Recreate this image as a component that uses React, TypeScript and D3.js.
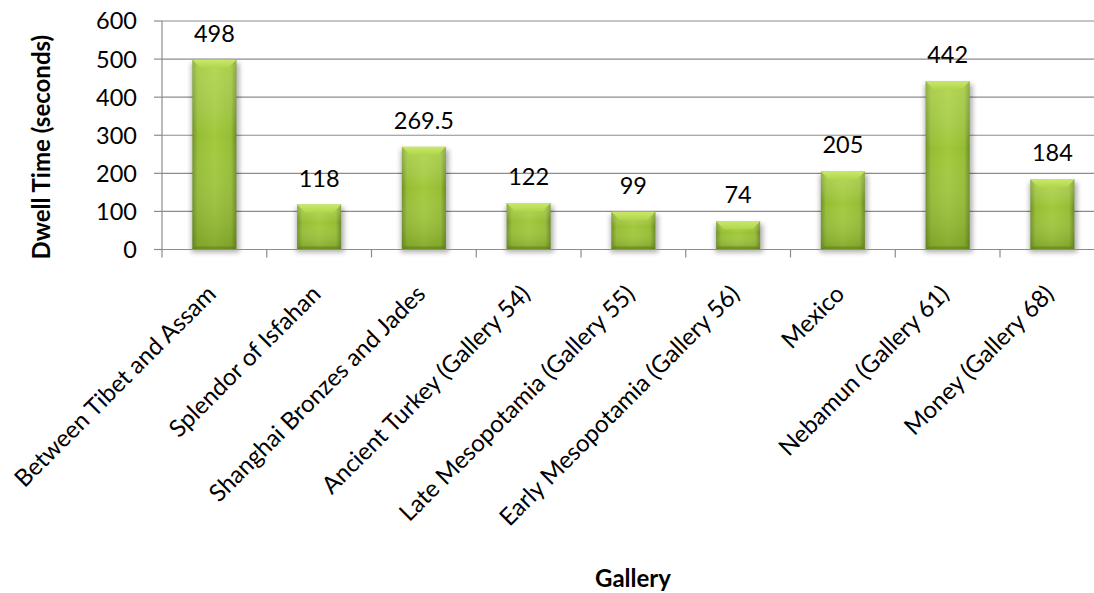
import React from "react";
import * as d3 from "d3";

const categories = [
  "Between Tibet and Assam",
  "Splendor of Isfahan",
  "Shanghai Bronzes and Jades",
  "Ancient Turkey (Gallery 54)",
  "Late Mesopotamia (Gallery 55)",
  "Early Mesopotamia (Gallery 56)",
  "Mexico",
  "Nebamun (Gallery 61)",
  "Money (Gallery 68)",
];
const dwellTimes = [498, 118, 269.5, 122, 99, 74, 205, 442, 184];
const yTicks = [0, 100, 200, 300, 400, 500, 600];
const yTitle = "Dwell Time (seconds)";
const xTitle = "Gallery";

const W = 1094;
const H = 593;
const plotLeft = 162;
const step = 104.75;
const plotRight = plotLeft + step * categories.length;
const plotTop = 21;
const plotBottom = 249.5;
const FONT = "Lato, 'Open Sans', sans-serif";

export default function App() {
  const x = d3.scaleBand<string>().domain(categories).range([plotLeft, plotRight]).padding(0);
  const y = d3.scaleLinear().domain([0, 600]).range([plotBottom, plotTop]);
  const bw = x.bandwidth() * 0.42;
  const bevel = 8;

  return (
    <svg
      width={W}
      height={H}
      style={{ position: "absolute", left: 0, top: 0, background: "#fff" }}
      fontFamily={FONT}
    >
      <defs>
        <linearGradient id="barH" x1="0" x2="1" y1="0" y2="0">
          <stop offset="0" stopColor="#6f9124" />
          <stop offset="0.12" stopColor="#95bd33" />
          <stop offset="0.5" stopColor="#a2c93b" />
          <stop offset="0.88" stopColor="#95bd33" />
          <stop offset="1" stopColor="#6a8a22" />
        </linearGradient>
        <linearGradient id="barV" x1="0" x2="0" y1="0" y2="1">
          <stop offset="0" stopColor="#d8f080" stopOpacity="0.35" />
          <stop offset="0.4" stopColor="#ffffff" stopOpacity="0" />
          <stop offset="1" stopColor="#3d5a00" stopOpacity="0.28" />
        </linearGradient>
        <linearGradient id="bevelTop" x1="0" x2="0" y1="0" y2="1">
          <stop offset="0" stopColor="#c9e86a" />
          <stop offset="1" stopColor="#b0d64a" />
        </linearGradient>
        <filter id="shadow" x="-30%" y="-30%" width="160%" height="160%">
          <feGaussianBlur stdDeviation="2.5" />
        </filter>
      </defs>

      {yTicks.map((t) => (
        <line
          key={"g" + t}
          x1={plotLeft}
          x2={plotRight}
          y1={y(t)}
          y2={y(t)}
          stroke="#8c8c8c"
          strokeWidth={1.2}
        />
      ))}

      <line x1={plotLeft} x2={plotLeft} y1={plotTop} y2={plotBottom} stroke="#8c8c8c" strokeWidth={1.2} />
      {yTicks.map((t) => (
        <g key={"yt" + t}>
          <line x1={plotLeft - 8} x2={plotLeft} y1={y(t)} y2={y(t)} stroke="#8c8c8c" strokeWidth={1.2} />
          <text x={137} y={y(t)} dy="0.36em" textAnchor="end" fontSize={23.5} fill="#000">
            {t}
          </text>
        </g>
      ))}

      {categories.map((c) => (
        <line
          key={"xt" + c}
          x1={x(c)!}
          x2={x(c)!}
          y1={plotBottom}
          y2={plotBottom + 8}
          stroke="#8c8c8c"
          strokeWidth={1.2}
        />
      ))}

      {categories.map((c, i) => {
        const v = dwellTimes[i];
        const cx = x(c)! + x.bandwidth() / 2;
        const x0 = cx - bw / 2;
        const x1 = cx + bw / 2;
        const top = y(v);
        const h = plotBottom - top;
        return (
          <g key={"b" + c}>
            <rect x={x0 - 1} y={top + 3} width={bw + 4} height={h} fill="#000" opacity={0.3} filter="url(#shadow)" />
            <rect x={x0} y={top} width={bw} height={h} fill="url(#barH)" />
            <rect x={x0} y={top} width={bw} height={h} fill="url(#barV)" />
            <polygon
              points={`${x0},${top} ${x1},${top} ${x1 - bevel},${top + bevel} ${x0 + bevel},${top + bevel}`}
              fill="url(#bevelTop)"
            />
            <polygon
              points={`${x0},${plotBottom} ${x1},${plotBottom} ${x1 - 3},${plotBottom - 3} ${x0 + 3},${plotBottom - 3}`}
              fill="#5b7a1a"
              opacity={0.5}
            />
            <text x={cx} y={top - 18} textAnchor="middle" fontSize={23.5} fill="#000">
              {v}
            </text>
          </g>
        );
      })}

      <line x1={plotLeft} x2={plotRight} y1={plotBottom} y2={plotBottom} stroke="#8c8c8c" strokeWidth={1.2} />

      {categories.map((c) => {
        const cx = x(c)! + x.bandwidth() / 2;
        return (
          <text
            key={"l" + c}
            transform={`translate(${cx + 3},${plotBottom + 46}) rotate(-45)`}
            textAnchor="end"
            fontSize={24}
            fill="#000"
          >
            {c}
          </text>
        );
      })}

      <text
        transform={`translate(50,${(plotTop + plotBottom) / 2 + 12}) rotate(-90)`}
        textAnchor="middle"
        fontSize={24}
        fontWeight="bold"
        fill="#000"
      >
        {yTitle}
      </text>
      <text x={633} y={587} textAnchor="middle" fontSize={24} fontWeight="bold" fill="#000">
        {xTitle}
      </text>
    </svg>
  );
}
